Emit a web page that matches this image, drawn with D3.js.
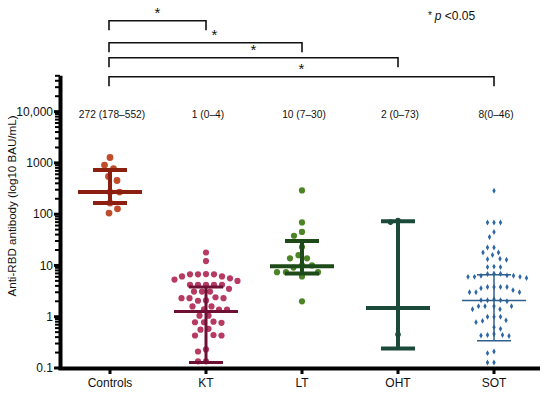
<!DOCTYPE html>
<html><head><meta charset="utf-8">
<script src="https://cdn.jsdelivr.net/npm/d3@7"></script>
<style>body{margin:0;background:#fff}svg{display:block;font-family:"Liberation Sans",Arial,Helvetica,sans-serif}</style>
</head><body><svg id="c" width="550" height="395"></svg>
<script>
const categories = ["Controls","KT","LT","OHT","SOT"];
const controls = [1274, 906, 777, 543, 454, 270, 270, 165, 127, 105];
const kt = [17.9, 12.2, 6.7, 6.7, 6.1, 6.8, 6.7, 5.6, 5.0, 6.1, 5.3, 4.2, 3.5, 4.2, 4.2, 4.2, 4.2, 3.1, 3.1, 3.1, 2.3, 2.3, 2.3, 2.4, 2.05, 2.08, 1.59, 1.59, 1.37, 1.37, 1.4, 1.05, 1.05, 0.78, 0.78, 0.8, 0.76, 0.56, 0.58, 0.43, 0.43, 0.44, 0.21, 0.23, 0.135, 0.135];
const lt = [290, 69, 45, 38, 22.8, 15.9, 13.8, 13.8, 10, 10, 9.1, 7.4, 7.4, 7.4, 6.1, 2.0];
const oht = [75, 70, 0.45];
const sot = [286, 69, 69, 69, 45, 36, 22.4, 22.4, 17.9, 17.9, 16, 12.9, 13.5, 13.2, 9.3, 9.5, 9.3, 6.3, 6.0, 6.0, 6.8, 5.7, 6.0, 6.9, 6.3, 6.4, 7.0, 3.8, 3.8, 3.3, 3.0, 3.0, 3.0, 3.6, 3.8, 3.8, 2.2, 2.1, 2.0, 2.1, 2.1, 1.6, 1.6, 1.4, 1.4, 1.6, 1.6, 1.0, 1.0, 1.0, 0.83, 0.85, 0.78, 0.62, 0.58, 0.46, 0.44, 0.42, 0.43, 0.44, 0.195, 0.21, 0.128, 0.128];
const medians = [272, 1.27, 9.6, 1.48, 2.08];
const upper = [730, 3.8, 30, 73, 6.6];
const lower = [165, 0.128, 7, 0.24, 0.34];
const annotations = ["272 (178–552)", "1 (0–4)", "10 (7–30)", "2 (0–73)", "8(0–46)"];
const comparisons = ["KT","LT","OHT","SOT"];
const yTickValues = [0.1, 1, 10, 100, 1000, 10000];
const yTickLabels = ["0.1", "1", "10", "100", "1000", "10,000"];

const groups = [controls, kt, lt, oht, sot];
const pointColors = ["#bf4d2c", "#b73a63", "#4c8427", "#1d4f3c", "#2e68a6"];
const lineColors = ["#8c2010", "#6d1034", "#1d4a18", "#1b4a3a", "#2f5f8c"];
const lineWidths = [4, 3, 4, 4, 1.5];
const radii = [3.4, 3.1, 3.1, 2.8, 1.9];
const gaps = [2.5, 1.6, 2.5, 2, 2.6];

const svg = d3.select("#c");
const y = d3.scaleLog().domain([0.1, 50000]).range([368, 75.8]);
const x = d3.scalePoint().domain(categories).range([110, 494]);

// y axis
const minor = [];
for (let e = -1; e <= 4; e++) for (let m = 2; m <= 9; m++) { const v = m * Math.pow(10, e); if (v <= 50000) minor.push(v); }
svg.append("line").attr("x1", 60.5).attr("x2", 60.5).attr("y1", y(50000)).attr("y2", 370).attr("stroke", "#000").attr("stroke-width", 4);
svg.selectAll(".mn").data(minor).join("line").attr("x1", 55).attr("x2", 60).attr("y1", d => y(d)).attr("y2", d => y(d)).attr("stroke", "#000").attr("stroke-width", 2);
svg.selectAll(".mj").data(yTickValues).join("line").attr("x1", 54).attr("x2", 60).attr("y1", d => y(d)).attr("y2", d => y(d)).attr("stroke", "#000").attr("stroke-width", 3);
svg.selectAll(".yl").data(yTickValues).join("text").attr("x", 53).attr("y", d => y(d) + 4.3).attr("text-anchor", "end").attr("font-size", 12).attr("fill", "#111").text((d, i) => yTickLabels[i]);
svg.append("text").attr("transform", "translate(16,206) rotate(-90)").attr("text-anchor", "middle").attr("font-size", 11.6).attr("fill", "#111").text("Anti-RBD antibody (log10 BAU/mL)");

// x axis
svg.append("line").attr("x1", 58.5).attr("x2", 540).attr("y1", 368.5).attr("y2", 368.5).attr("stroke", "#000").attr("stroke-width", 4);
svg.selectAll(".xt").data(categories).join("line").attr("x1", d => x(d)).attr("x2", d => x(d)).attr("y1", 368).attr("y2", 374).attr("stroke", "#000").attr("stroke-width", 3);
svg.selectAll(".xl").data(categories).join("text").attr("x", d => x(d)).attr("y", 387).attr("text-anchor", "middle").attr("font-size", 12).attr("fill", "#111").text(d => d);

// collision-based swarm layout
function swarm(vals, r, gap) {
  const pts = vals.map(v => ({ v, py: y(v) })).sort((a, b) => a.py - b.py);
  const md = 2 * r + gap;
  const placed = [];
  pts.forEach((p, k) => {
    let best = null;
    const sideFirst = k % 2 === 0 ? 1 : -1;
    for (let s = 0; s <= 60; s += 0.5) {
      for (const sg of (s === 0 ? [1] : [sideFirst, -sideFirst])) {
        const dx = s * sg;
        if (placed.every(q => (q.dx - dx) ** 2 + (q.py - p.py) ** 2 >= md * md)) { best = dx; break; }
      }
      if (best !== null) break;
    }
    p.dx = best === null ? 0 : best;
    placed.push(p);
  });
  return pts;
}

groups.forEach((vals, gi) => {
  const cx = x(categories[gi]);
  const pts = swarm(vals, radii[gi], gaps[gi]);
  const g = svg.append("g");
  if (gi === 4) {
    g.selectAll("path").data(pts).join("path")
      .attr("transform", d => `translate(${cx + d.dx},${d.py})`)
      .attr("d", d3.symbol().type(d3.symbolDiamond).size(10))
      .attr("fill", pointColors[gi]);
  } else {
    g.selectAll("circle").data(pts).join("circle")
      .attr("cx", d => cx + d.dx).attr("cy", d => d.py).attr("r", radii[gi])
      .attr("fill", pointColors[gi]);
  }
  const lc = lineColors[gi], lw = lineWidths[gi];
  g.append("line").attr("x1", cx).attr("x2", cx).attr("y1", y(upper[gi])).attr("y2", y(lower[gi])).attr("stroke", lc).attr("stroke-width", lw);
  g.append("line").attr("x1", cx - 32).attr("x2", cx + 32).attr("y1", y(medians[gi])).attr("y2", y(medians[gi])).attr("stroke", lc).attr("stroke-width", lw);
  [upper[gi], lower[gi]].forEach(v => {
    g.append("line").attr("x1", cx - 17).attr("x2", cx + 17).attr("y1", y(v)).attr("y2", y(v)).attr("stroke", lc).attr("stroke-width", lw);
  });
});

// annotations
svg.selectAll(".an").data(annotations).join("text").attr("x", (d, i) => x(categories[i]) + 2).attr("y", 118).attr("text-anchor", "middle").attr("font-size", 10.2).attr("fill", "#111").text(d => d);

// brackets
const bracketY = [20.7, 42.7, 57.7, 76.7];
comparisons.forEach((c, i) => {
  const x0 = x("Controls") - 1, x1 = x(c), by = bracketY[i];
  svg.append("path").attr("d", `M${x0},${by + 9.5}V${by}H${x1}V${by + 9.5}`).attr("fill", "none").attr("stroke", "#111").attr("stroke-width", 1.6);
  svg.append("text").attr("x", (x0 + x1) / 2 + (i === 1 ? 9 : 0)).attr("y", by - 3).attr("text-anchor", "middle").attr("font-size", 15).attr("fill", "#111").text("*");
});
const leg = svg.append("text").attr("x", 428).attr("y", 20).attr("font-size", 12).attr("fill", "#111");
leg.append("tspan").attr("font-size", 10).attr("dy", -1).text("* ");
leg.append("tspan").attr("font-style", "italic").attr("dy", 1).text("p");
leg.append("tspan").text(" <0.05");
</script></body></html>
